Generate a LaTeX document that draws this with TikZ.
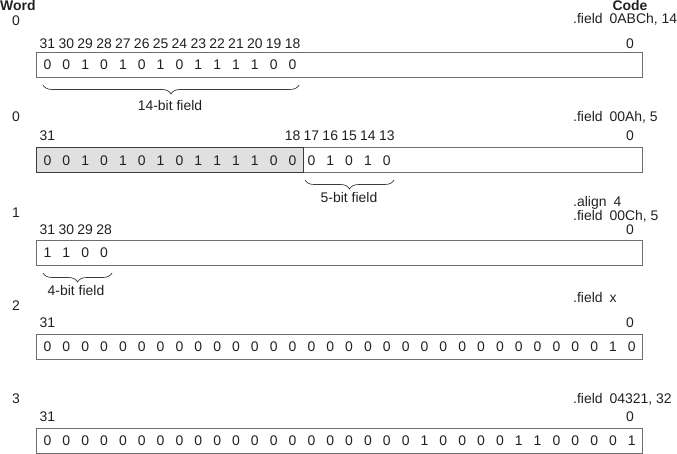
\documentclass[tikz,border=0pt]{standalone}
\usepackage{fontspec}
\setmainfont{Liberation Sans}
\usetikzlibrary{decorations.pathreplacing}
\definecolor{boxline}{HTML}{6E6E6E}
\definecolor{darkline}{HTML}{3C3C3C}
\definecolor{shade}{HTML}{E0E0E0}
\definecolor{ink}{HTML}{231F20}
\begin{document}
\begin{tikzpicture}[x=1bp,y=-1bp, font=\fontsize{14}{16}\selectfont]
\tikzset{
 t/.style={inner sep=0pt, anchor=base, text=ink},
 tl/.style={inner sep=0pt, anchor=base west, text=ink},
 wordbox/.style={draw=boxline, line width=0.9bp, anchor=north west, minimum height=25bp, inner sep=0pt},
 fieldbox/.style={draw=darkline, fill=shade, line width=0.9bp, anchor=north west, minimum height=25bp, inner sep=0pt},
 bracket/.style={draw=darkline, line width=0.7bp, decorate, decoration={brace, mirror, amplitude=9bp}},
 hdr/.style={inner sep=0pt, anchor=base, text=ink, font=\bfseries\fontsize{14}{16}\selectfont},
}
\useasboundingbox (0,0) rectangle (677,454);

% headers
\node[hdr, anchor=base west] (word) at (0,11) {Word};
\node[hdr] (code) at (630,11) {Code};

% word numbers
\node[t] (w0a) at (16,26) {0};
\node[t] (w0b) at (16,122) {0};
\node[t] (w1) at (16,218) {1};
\node[t] (w2) at (16,310.5) {2};
\node[t] (w3) at (16,403.5) {3};

% code lines
\node[tl] (c1) at (573,24) {.field\hspace{7bp}0ABCh, 14};
\node[tl] (c2) at (573,122) {.field\hspace{7bp}00Ah, 5};
\node[tl] (c3a) at (573,207) {.align\hspace{7bp}4};
\node[tl] (c3b) at (573,221) {.field\hspace{7bp}00Ch, 5};
\node[tl] (c4) at (573,303) {.field\hspace{7bp}x};
\node[tl] (c5) at (573,403) {.field\hspace{7bp}04321, 32};

% right zero labels
\node[t] (z1) at (630,49) {0};
\node[t] (z2) at (630,141) {0};
\node[t] (z3) at (630,235) {0};
\node[t] (z4) at (630,327.5) {0};
\node[t] (z5) at (630,421.5) {0};

% ---------- row 1 ----------
\node[wordbox, minimum width=606bp] (box1) at (36,52.5) {};
\foreach \b [count=\i from 0] in {31,30,...,18}
  \node[t] (r1l\i) at ({47.5+\i*18.85},49) {\b};
\foreach \d [count=\i from 0] in {0,0,1,0,1,0,1,0,1,1,1,1,0,0}
  \node[t] (r1d\i) at ({47.5+\i*18.85},70) {\d};
\coordinate (b1s) at (43,85);
\coordinate (b1e) at (299,85);
\draw[bracket] (b1s) -- (b1e);
\node[t] (lab1) at (170,111) {14-bit field};

% ---------- row 2 ----------
\node[wordbox, minimum width=606bp] (box2) at (36,147.5) {};
\node[fieldbox, minimum width=266.7bp] (fld2) at (36,147.5) {};
\node[t] (r2l31) at (47.5,140.5) {31};
\foreach \b [count=\i from 13] in {18,17,...,13}
  \node[t] (r2l\i) at ({47.5+\i*18.85},140.5) {\b};
\foreach \d [count=\i from 0] in {0,0,1,0,1,0,1,0,1,1,1,1,0,0,0,1,0,1,0}
  \node[t] (r2d\i) at ({47.5+\i*18.85},165.5) {\d};
\coordinate (b2s) at (305,180);
\coordinate (b2e) at (394,180);
\draw[bracket] (b2s) -- (b2e);
\node[t] (lab2) at (349,203) {5-bit field};

% ---------- row 3 ----------
\node[wordbox, minimum width=606bp] (box3) at (36,240.5) {};
\foreach \b [count=\i from 0] in {31,30,29,28}
  \node[t] (r3l\i) at ({47.5+\i*18.85},235) {\b};
\foreach \d [count=\i from 0] in {1,1,0,0}
  \node[t] (r3d\i) at ({47.5+\i*18.85},258) {\d};
\coordinate (b3s) at (43,273);
\coordinate (b3e) at (112,273);
\draw[bracket] (b3s) -- (b3e);
\node[t] (lab3) at (76,296) {4-bit field};

% ---------- row 4 ----------
\node[wordbox, minimum width=606bp] (box4) at (36,333.5) {};
\node[t] (r4l31) at (47.5,327.5) {31};
\foreach \d [count=\i from 0] in {0,0,0,0,0,0,0,0,0,0,0,0,0,0,0,0,0,0,0,0,0,0,0,0,0,0,0,0,0,0,1,0}
  \node[t] (r4d\i) at ({47.5+\i*18.85},351) {\d};

% ---------- row 5 ----------
\node[wordbox, minimum width=606bp] (box5) at (36,427.5) {};
\node[t] (r5l31) at (47.5,421.5) {31};
\foreach \d [count=\i from 0] in {0,0,0,0,0,0,0,0,0,0,0,0,0,0,0,0,0,0,0,0,1,0,0,0,0,1,1,0,0,0,0,1}
  \node[t] (r5d\i) at ({47.5+\i*18.85},445) {\d};
\end{tikzpicture}
\end{document}
